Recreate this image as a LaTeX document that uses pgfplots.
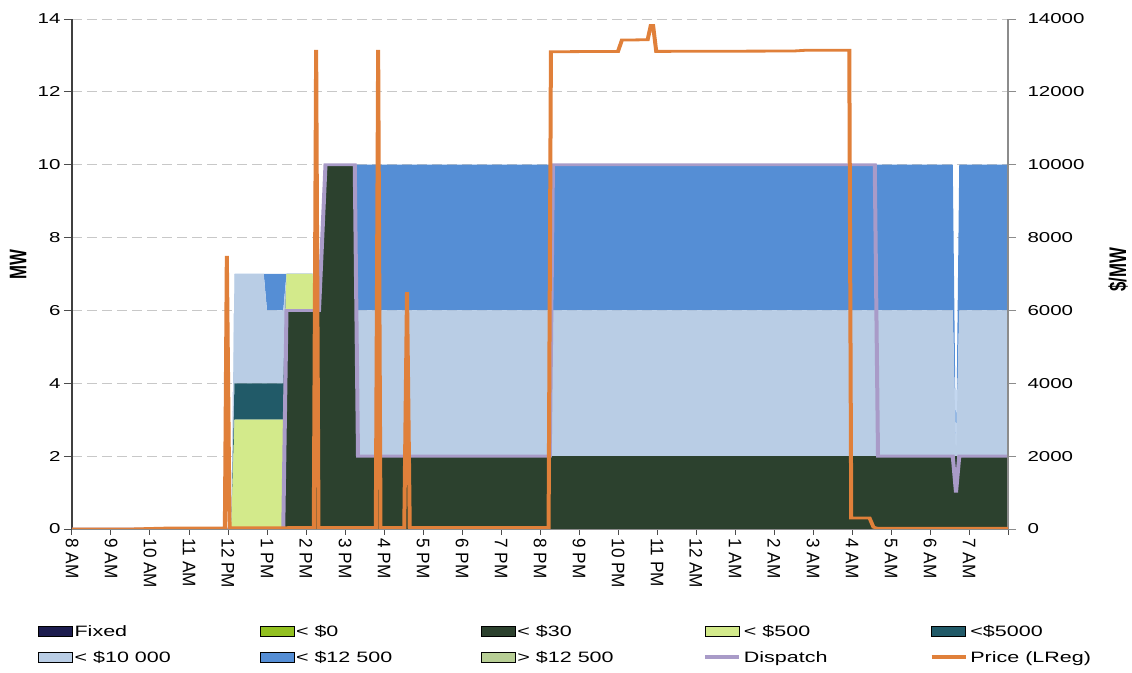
\documentclass[border=0pt]{standalone}
\usepackage{pgfplots}
\pgfplotsset{compat=1.18}
\usepackage{pgfplotstable}
\usepackage{graphicx}
\usepackage{fontspec}
\setmainfont{Liberation Sans}

\definecolor{fixedc}{HTML}{1C1C4E}
\definecolor{lt0}{HTML}{92C020}
\definecolor{c30}{HTML}{2C412E}
\definecolor{c500}{HTML}{D3EA8B}
\definecolor{c5000}{HTML}{215A68}
\definecolor{c10k}{HTML}{B9CDE5}
\definecolor{c12k}{HTML}{558ED5}
\definecolor{gt12k}{HTML}{B7CE95}
\definecolor{dispc}{HTML}{A99BC8}
\definecolor{pricec}{HTML}{E0803A}
\definecolor{gridc}{HTML}{C8C8C8}

% bands (MW), hours after 8 AM
\pgfplotstableread{
h c30 c500 c5000 c10k c12k
0 0 0 0 0 0
4.0833 0 0 0 0 0
4.1667 0 3 1 3 0
4.9167 0 3 1 3 0
5.0 0 3 1 2 1
5.4167 0 3 1 2 1
5.5 6 1 0 0 0
6.1667 6 1 0 0 0
6.25 6 0 0 0 0
6.3333 6 0 0 0 0
6.5 10 0 0 0 0
7.25 10 0 0 0 0
7.3333 2 0 0 4 4
22.5833 2 0 0 4 4
22.6667 2 0 0 0 0
22.75 2 0 0 4 4
24 2 0 0 4 4
}\bands

\pgfplotstableread{
h mw
0 0
5.4167 0
5.5 6
6.3333 6
6.5 10
7.25 10
7.3333 2
12.25 2
12.3333 10
20.5833 10
20.6667 2
22.5833 2
22.6667 1
22.75 2
24 2
}\dispatch

\pgfplotstableread{
h price
0 0
1.5 0
2.6 30
3.92 30
3.97 7500
4.04 30
6.20 40
6.26 13150
6.32 40
7.79 40
7.85 13150
7.91 40
8.52 40
8.59 6500
8.66 40
12.22 40
12.28 13100
14.00 13110
14.10 13420
14.76 13430
14.84 13820
14.90 13820
14.98 13110
18.5 13120
18.8 13140
19.93 13140
19.98 300
20.45 300
20.55 50
20.65 20
24 20
}\price

\pgfplotsset{
  base/.style={scale only axis, width=936pt, height=728.6pt,
    xmin=0, xmax=24, ymin=0, ymax=14},
  swatch/.style={legend image code/.code={\fill[##1] (0pt,-7pt) rectangle (34pt,7pt);}},
  linesw/.style={legend image code/.code={\draw[##1,line width=5.5pt] (0pt,0pt) -- (34pt,0pt);}},
}

\newcommand{\lbl}[1]{\makebox[183pt][l]{\vphantom{(\$y}#1}}

\begin{document}
\scalebox{1}[0.7]{%
\begin{tikzpicture}
\path[use as bounding box] (-72pt,-204.3pt) rectangle (1060pt,755.7pt);
\begin{axis}[base,
  axis x line*=bottom, axis y line*=left,
  stack plots=y,
  xtick={0,...,24},
  xticklabels={8 AM,9 AM,10 AM,11 AM,12 PM,1 PM,2 PM,3 PM,4 PM,5 PM,6 PM,7 PM,8 PM,9 PM,10 PM,11 PM,12 AM,1 AM,2 AM,3 AM,4 AM,5 AM,6 AM,7 AM,{}},
  tick align=outside, major tick length=8pt,
  tick style={black!70, line width=1pt},
  tick label style={font=\fontsize{20.5}{24}\selectfont},
  xticklabel style={rotate=-90, yscale=0.74, anchor=west, xshift=2pt, font=\fontsize{24.5}{28}\selectfont},
  ytick={0,2,...,14},
  /pgf/number format/assume math mode=true,
  ymajorgrids, grid style={gridc, line width=1.3pt, dash pattern=on 10pt off 5pt},
  x axis line style={draw=black!45, line width=1.2pt, -},
  y axis line style={draw=black!75, line width=1.3pt, -},
  ylabel={MW},
  ylabel style={at={(axis description cs:-0.0577,0.518)}, anchor=center,
    font=\bfseries\fontsize{24}{28}\selectfont},
]
\addplot[draw=none, fill=c30, mark=none] table[x=h,y=c30] {\bands} \closedcycle;
\addplot[draw=none, fill=c500, mark=none] table[x=h,y=c500] {\bands} \closedcycle;
\addplot[draw=none, fill=c5000, mark=none] table[x=h,y=c5000] {\bands} \closedcycle;
\addplot[draw=none, fill=c10k, mark=none] table[x=h,y=c10k] {\bands} \closedcycle;
\addplot[draw=none, fill=c12k, mark=none] table[x=h,y=c12k] {\bands} \closedcycle;
\end{axis}

\begin{axis}[base, hide axis]
\addplot[dispc, line width=4pt, mark=none] table[x=h,y=mw] {\dispatch};
\end{axis}

\begin{axis}[base, ymax=14000,
  axis y line*=right, axis x line=none,
  ytick={0,2000,...,14000},
  scaled ticks=false,
  /pgf/number format/1000 sep={},
  /pgf/number format/assume math mode=true,
  tick align=outside, major tick length=8pt,
  tick style={black!45, line width=1pt},
  yticklabel style={font=\fontsize{20.5}{24}\selectfont, xshift=8pt},
  y axis line style={draw=black!45, line width=1.2pt, -},
  ylabel={\$/MW},
  ylabel style={at={(axis description cs:1.1175,0.508)}, anchor=center,
    font=\bfseries\fontsize{24}{28}\selectfont},
  legend columns=5,
  legend style={at={(0,0)}, anchor=north west, xshift=-37pt, yshift=-133pt,
    draw=none, fill=none, font=\fontsize{21.5}{25}\selectfont,
    /tikz/row sep=16pt, /tikz/column sep=0pt},
  legend cell align=left,
]
\addlegendimage{swatch, fill=fixedc}
\addlegendentry{\lbl{Fixed}}
\addlegendimage{swatch, fill=lt0}
\addlegendentry{\lbl{< \$0}}
\addlegendimage{swatch, fill=c30}
\addlegendentry{\lbl{< \$30}}
\addlegendimage{swatch, fill=c500}
\addlegendentry{\lbl{< \$500}}
\addlegendimage{swatch, fill=c5000}
\addlegendentry{\lbl{<\$5000}}
\addlegendimage{swatch, fill=c10k}
\addlegendentry{\lbl{< \$10 000}}
\addlegendimage{swatch, fill=c12k}
\addlegendentry{\lbl{< \$12 500}}
\addlegendimage{swatch, fill=gt12k}
\addlegendentry{\lbl{> \$12 500}}
\addlegendimage{linesw, draw=dispc}
\addlegendentry{\lbl{Dispatch}}
\addlegendimage{linesw, draw=pricec}
\addlegendentry{\lbl{Price (LReg)}}
\addplot[pricec, line width=4pt, mark=none, forget plot] table[x=h,y=price] {\price};
\end{axis}
\end{tikzpicture}}
\end{document}
